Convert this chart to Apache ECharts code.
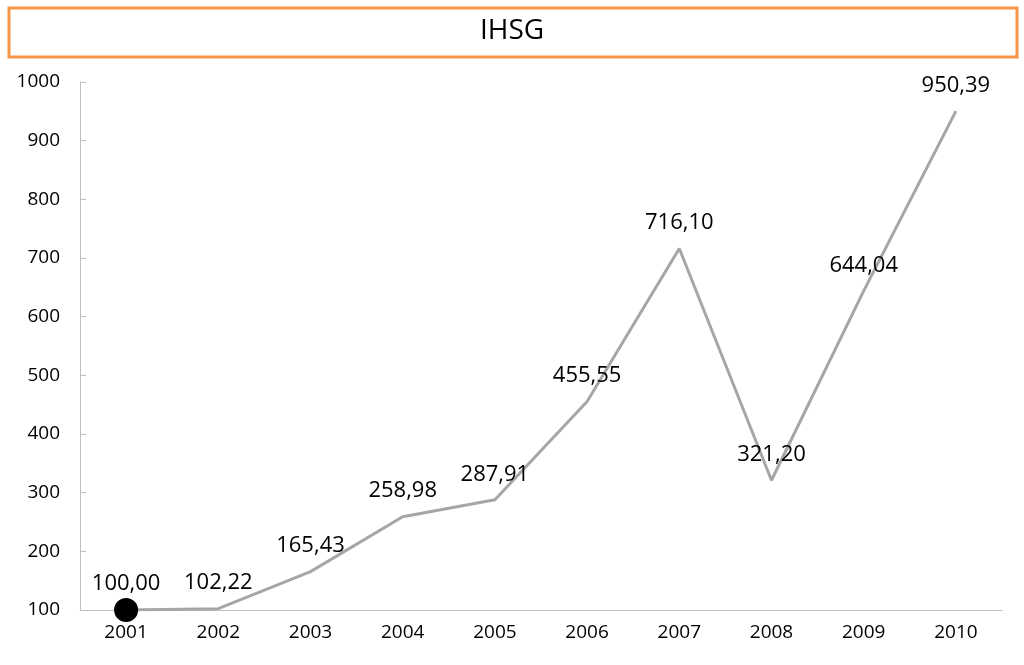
<!DOCTYPE html>
<html>
<head>
<meta charset="utf-8">
<script src="https://cdn.jsdelivr.net/npm/echarts@6/dist/echarts.min.js"></script>
<style>html,body{margin:0;padding:0;background:#fff}#c{width:1024px;height:665px}</style>
</head>
<body>
<div id="c"></div>
<script>
const titleText = 'IHSG';
const years = ['2001','2002','2003','2004','2005','2006','2007','2008','2009','2010'];
const ihsg = [100.00, 102.22, 165.43, 258.98, 287.91, 455.55, 716.10, 321.20, 644.04, 950.39];
const yTicks = {min: 100, max: 1000, interval: 100};

const fmt = v => v.toFixed(2).replace('.', ',');
const font = '"Open Sans", "Noto Sans", sans-serif';

const chart = echarts.init(document.getElementById('c'), null, {renderer: 'canvas'});
chart.setOption({
  animation: false,
  backgroundColor: '#fff',
  graphic: [{
    type: 'rect',
    shape: {x: 9, y: 8, width: 1008, height: 49},
    style: {fill: '#fff', stroke: '#F79646', lineWidth: 3}
  }],
  title: {
    text: titleText, left: 'center', top: 12,
    textStyle: {fontFamily: font, fontSize: 28, fontWeight: 'normal', color: '#000'}
  },
  grid: {left: 80, right: 22, top: 82, bottom: 55, containLabel: false},
  xAxis: {
    type: 'category', data: years, boundaryGap: true,
    axisLine: {lineStyle: {color: '#BFBFBF', width: 1}},
    axisTick: {show: false},
    axisLabel: {fontFamily: font, fontSize: 19, color: '#000', margin: 13}
  },
  yAxis: {
    type: 'value', min: yTicks.min, max: yTicks.max, interval: yTicks.interval,
    axisLine: {show: true, lineStyle: {color: '#BFBFBF', width: 1}},
    axisTick: {show: true, inside: true, length: 6, lineStyle: {color: '#BFBFBF'}},
    splitLine: {show: false},
    axisLabel: {fontFamily: font, fontSize: 19, color: '#000', margin: 20, formatter: v => String(v)}
  },
  series: [{
    type: 'line',
    data: ihsg.map((v, i) => i === 0
      ? {value: v, symbol: 'circle', symbolSize: 24, itemStyle: {color: '#000'}, label: {distance: 3}}
      : {value: v, symbol: 'circle', symbolSize: 1, itemStyle: {color: 'rgba(0,0,0,0)'}}),
    showSymbol: true,
    lineStyle: {color: '#A6A6A6', width: 3},
    label: {
      show: true, position: 'top', distance: 14,
      fontFamily: font, fontSize: 22, color: '#000',
      formatter: p => fmt(p.value)
    }
  }]
});
</script>
</body>
</html>
